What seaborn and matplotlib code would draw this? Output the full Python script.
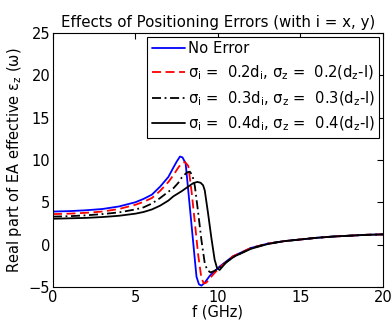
import matplotlib
matplotlib.use("Agg")
import matplotlib.pyplot as plt
import seaborn as sns
import pandas as pd

# --- data ---
f_none = [0, 1, 2, 3, 4, 5, 5.5, 6, 6.5, 7, 7.3, 7.5, 7.7, 7.85, 8.04, 8.2, 8.4, 8.6, 8.7, 8.85, 9.0, 9.2, 9.5, 10.1, 10.9, 12, 13, 14, 15, 16, 17, 18, 19, 20]
v_none = [3.9, 3.95, 4.05, 4.2, 4.5, 5.0, 5.4, 5.9, 6.85, 8.0, 9.1, 9.8, 10.4, 10.3, 9.6, 6.4, 2.3, -1.8, -3.8, -4.7, -4.85, -4.5, -3.7, -2.6, -1.4, -0.4, 0.1, 0.4, 0.6, 0.8, 0.95, 1.05, 1.15, 1.2]

f_02 = [0, 1, 2, 3, 4, 5, 5.5, 6, 6.5, 7, 7.3, 7.6, 7.8, 8.0, 8.2, 8.4, 8.6, 8.8, 9.0, 9.15, 9.3, 9.5, 10.1, 10.9, 12, 13, 14, 15, 16, 17, 18, 19, 20]
v_02 = [3.6, 3.65, 3.75, 3.9, 4.2, 4.7, 5.05, 5.5, 6.35, 7.4, 8.2, 9.1, 9.6, 9.75, 9.3, 6.3, 2.6, -1.2, -4.0, -4.6, -4.5, -4.0, -2.7, -1.4, -0.4, 0.1, 0.4, 0.6, 0.8, 0.95, 1.05, 1.15, 1.2]

f_03 = [0, 1, 2, 3, 4, 5, 5.5, 6, 6.5, 7, 7.3, 7.6, 7.8, 8.0, 8.15, 8.3, 8.45, 8.6, 8.8, 9.0, 9.2, 9.35, 9.55, 9.8, 10.1, 10.9, 12, 13, 14, 15, 16, 17, 18, 19, 20]
v_03 = [3.3, 3.35, 3.45, 3.6, 3.8, 4.15, 4.4, 4.85, 5.5, 6.25, 6.65, 7.3, 7.9, 8.3, 8.55, 8.6, 8.2, 6.9, 3.8, 0.5, -2.2, -3.0, -3.3, -3.1, -2.7, -1.5, -0.45, 0.1, 0.4, 0.6, 0.8, 0.95, 1.05, 1.15, 1.2]

f_04 = [0, 1, 2, 3, 4, 5, 5.5, 6, 6.5, 7, 7.3, 7.8, 8.2, 8.5, 8.75, 8.95, 9.1, 9.2, 9.4, 9.6, 9.8, 9.95, 10.1, 10.5, 11, 12, 13, 14, 15, 16, 17, 18, 19, 20]
v_04 = [3.05, 3.1, 3.15, 3.25, 3.4, 3.65, 3.85, 4.15, 4.6, 5.2, 5.7, 6.3, 6.85, 7.25, 7.4, 7.3, 7.0, 6.4, 3.7, 0.8, -1.8, -2.8, -3.0, -2.1, -1.4, -0.5, 0.05, 0.4, 0.6, 0.8, 0.95, 1.05, 1.15, 1.2]

labels = [
    "No Error",
    r"$\mathregular{\sigma_{i}}$ =  0.2d$_{\mathregular{i}}$, $\mathregular{\sigma_{z}}$ =  0.2(d$_{\mathregular{z}}$-l)",
    r"$\mathregular{\sigma_{i}}$ =  0.3d$_{\mathregular{i}}$, $\mathregular{\sigma_{z}}$ =  0.3(d$_{\mathregular{z}}$-l)",
    r"$\mathregular{\sigma_{i}}$ =  0.4d$_{\mathregular{i}}$, $\mathregular{\sigma_{z}}$ =  0.4(d$_{\mathregular{z}}$-l)",
]
x_ticks = [0, 5, 10, 15, 20]
y_ticks = [-5, 0, 5, 10, 15, 20, 25]

sns.set_theme(style="white")
plt.rcParams["font.family"] = ["DejaVu Sans"]
plt.rcParams["mathtext.fontset"] = "dejavusans"
plt.rcParams["text.color"] = "black"
plt.rcParams["axes.labelcolor"] = "black"

fig = plt.figure(figsize=(3.92, 3.26), dpi=100)
ax = fig.add_axes([0.135, 0.12, 0.842, 0.779])

series = [
    (f_none, v_none, "#0000ff", "-"),
    (f_02, v_02, "#ff0000", (0, (5, 2.5))),
    (f_03, v_03, "#000000", (0, (5, 2, 1, 2))),
    (f_04, v_04, "#000000", "-"),
]
for (fx, vy, col, ls), lab in zip(series, labels):
    df = pd.DataFrame({"f": fx, "v": vy})
    sns.lineplot(data=df, x="f", y="v", ax=ax, color=col, linestyle=ls,
                 linewidth=1.3, label=lab, sort=False, estimator=None)

ax.set_xlim(0, 20)
ax.set_ylim(-5, 25)
ax.set_xticks(x_ticks)
ax.set_yticks(y_ticks)
ax.tick_params(direction="in", length=4, width=0.8, top=True, right=True,
               labelsize=10.5, colors="black", pad=2)
for s in ax.spines.values():
    s.set_color("black")
    s.set_linewidth(0.8)

ax.set_xlabel("f (GHz)", fontsize=10.5, labelpad=0, color="black")
ax.set_ylabel(r"Real part of EA effective $\mathregular{\varepsilon_{z}}$ ($\mathregular{\omega}$)",
              fontsize=10.5, labelpad=3, color="black")
ax.set_title("Effects of Positioning Errors (with i = x, y)", fontsize=10.8, pad=4,
             color="black")

leg = ax.legend(loc="upper right", fontsize=10.6, frameon=True, fancybox=False,
                edgecolor="black", framealpha=1, borderpad=0.3, labelspacing=0.5,
                handlelength=2.3, handletextpad=0.15, borderaxespad=0.25)
leg.get_frame().set_linewidth(0.8)
for t in leg.get_texts():
    t.set_color("black")

fig.savefig("out.png", dpi=100)
